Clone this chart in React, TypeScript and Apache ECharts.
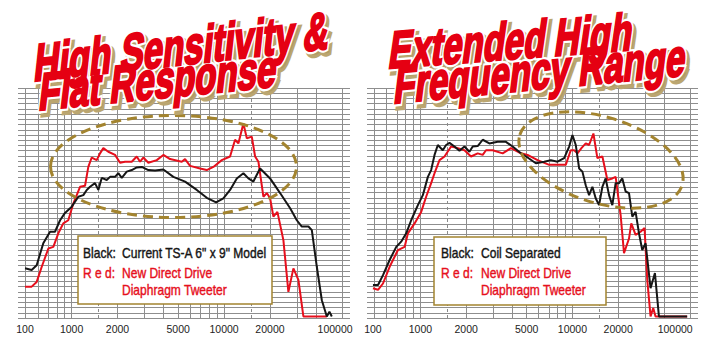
import React, { useEffect, useRef } from 'react';
import * as echarts from 'echarts';

// ---- Data (frequency in Hz, relative level in grid units) ----
const leftBlack: [number, number][] = [
  [495, 9.5], [547, 9.2], [590, 10.1], [652, 14.3], [722, 16.5], [778, 16.5], [840, 18.7], [905, 20.1],
  [1002, 21.3], [1107, 23.2], [1194, 23.5], [1257, 24.5], [1321, 25.1], [1424, 25.8], [1497, 24.5],
  [1576, 26.8], [1700, 26.4], [1787, 27.0], [1927, 27.0], [2025, 27.7], [2133, 26.8], [2300, 28.0],
  [2480, 28.3], [2675, 28.8], [2885, 28.9], [3187, 28.3], [3527, 28.2], [3997, 28.4], [4650, 27.0],
  [5549, 26.1], [6622, 24.5], [7702, 23.0], [8863, 22.1], [9897, 22.9], [10950, 24.5], [12120, 26.7],
  [13390, 27.7], [14440, 26.7], [15570, 26.1], [16400, 27.4], [17230, 28.6], [20040, 26.7], [23310, 23.9],
  [27130, 21.0], [30010, 18.7], [32350, 17.5], [35760, 17.5], [37640, 16.8], [40590, 9.8], [43780, 3.4],
  [47210, 0.3], [49110, 1.2], [50910, 0.3],
];
const leftRed: [number, number][] = [
  [495, 6.0], [547, 6.0], [590, 6.9], [637, 9.8], [704, 13.3], [759, 13.6], [818, 16.2], [882, 18.1],
  [951, 18.7], [1026, 21.9], [1136, 25.1], [1225, 25.3], [1287, 28.9], [1355, 30.7], [1462, 30.2],
  [1536, 31.5], [1615, 32.5], [1741, 31.8], [1927, 31.2], [2078, 29.7], [2241, 29.9], [2480, 29.9],
  [2675, 30.9], [2811, 29.9], [2955, 30.7], [3187, 29.7], [3619, 30.2], [3997, 31.2], [4424, 30.4],
  [5279, 29.9], [5549, 30.4], [5984, 29.1], [6960, 28.6], [7702, 28.3], [8509, 28.9], [9661, 30.2],
  [10950, 30.9], [11810, 34.1], [12410, 33.4], [13390, 37.2], [14100, 34.4], [15200, 34.7], [15980, 30.9],
  [16800, 29.9], [18110, 23.2], [19070, 23.9], [20040, 22.9], [21070, 19.4], [22380, 20.3], [24500, 14.9],
  [26420, 5.0], [28500, 9.5], [30730, 7.3], [33140, 0.3], [47210, 0.3],
];
const rightBlack: [number, number][] = [
  [487, 6.3], [526, 6.3], [567, 8.2], [627, 11.1], [693, 13.6], [747, 14.6], [806, 16.2], [869, 18.7],
  [962, 21.6], [1037, 23.5], [1119, 27.0], [1176, 28.3], [1238, 31.2], [1301, 33.1], [1403, 32.1],
  [1475, 33.1], [1553, 33.5], [1675, 32.8], [1806, 32.0], [1948, 32.8], [2100, 31.8], [2208, 32.8],
  [2380, 32.9], [2568, 34.1], [2842, 33.4], [3221, 33.7], [3651, 33.7], [4040, 32.8], [4580, 31.5],
  [5068, 30.7], [5745, 29.6], [6522, 29.9], [7205, 30.2], [7974, 29.9], [8822, 30.6], [9515, 32.8],
  [10000, 35.0], [10515, 33.1], [11070, 28.6], [11630, 28.0], [12230, 25.4], [12870, 23.5], [13530, 25.1],
  [14220, 22.9], [14970, 21.6], [15740, 25.1], [16540, 26.7], [17410, 23.5], [18300, 21.6], [19240, 25.8],
  [20250, 25.8], [21290, 26.7], [22380, 24.2], [23560, 23.9], [24770, 19.4], [26030, 20.3], [27410, 16.2],
  [28800, 13.0], [30280, 14.3], [32650, 5.7], [34890, 8.6], [37070, 0.3], [56850, 0.3],
];
const rightRed: [number, number][] = [
  [487, 5.7], [526, 5.4], [567, 6.6], [627, 9.8], [711, 13.0], [787, 13.6], [827, 16.2], [915, 18.1],
  [1011, 20.3], [1090, 23.2], [1176, 25.8], [1238, 27.7], [1335, 30.2], [1440, 30.9], [1591, 32.8],
  [1760, 32.5], [1948, 32.1], [2152, 30.9], [2380, 31.5], [2568, 31.2], [2700, 32.1], [2987, 32.1],
  [3474, 31.5], [3938, 32.5], [4580, 31.5], [5068, 31.2], [5894, 30.2], [7036, 29.3], [7974, 29.3],
  [9038, 29.3], [9750, 32.1], [10260, 32.1], [10790, 31.5], [11460, 32.5], [12230, 33.4], [12870, 33.1],
  [13740, 35.3], [14590, 30.6], [15740, 30.9], [16980, 26.4], [18300, 26.7], [19240, 27.0], [20750, 19.7],
  [21840, 12.4], [23560, 15.2], [24390, 18.1], [26030, 15.9], [28070, 16.5], [29820, 17.2], [31060, 7.3],
  [32650, 0.3], [34000, 1.9], [35210, 0.3], [56850, 0.3],
];

const gridFreqs = [500, 600, 700, 800, 900, 1000, 2000, 3000, 4000, 5000, 6000, 7000, 8000, 9000, 10000, 20000, 30000, 40000, 60000];
const dashedFreqs = [1500, 15000];
const tickLabels = ['100', '1000', '2000', '5000', '10000', '20000', '100000'];
const leftTickFreqs = [495, 1000, 2000, 5000, 10000, 20000, 53500];
const rightTickFreqs = [487, 1000, 2000, 5000, 10000, 20000, 47400];

const titlesLeft = ['High Sensitivity &', 'Flat Response'];
const titlesRight = ['Extended High', 'Frequency Range'];
const legendLeft = ['Black:', 'Current TS-A 6" x 9" Model', 'R e d:', 'New Direct Drive', 'Diaphragm Tweeter'];
const legendRight = ['Black:', 'Coil Separated', 'R e d:', 'New Direct Drive', 'Diaphragm Tweeter'];

const X_MIN = 445;
const X_MAX = 67000;
const Y_MAX = 44;

const RED = '#e60f1c';
const BLACK = '#151515';
const GOLD = '#a3842f';
const GRID = '#8e8e8e';
const SANS = 'Liberation Sans';

function makeFormatter(ticks: number[]) {
  return (v: number) => {
    let best = 0;
    ticks.forEach((t, i) => {
      if (Math.abs(Math.log10(t) - Math.log10(v)) < Math.abs(Math.log10(ticks[best]) - Math.log10(v))) best = i;
    });
    return tickLabels[best];
  };
}

function titleText(text: string, x: number, y: number, rot: number) {
  const base = { type: 'text', rotation: rot, scaleX: 0.67, skewX: -0.22, silent: true };
  const st = {
    text,
    fontFamily: SANS,
    fontSize: 52,
    fontWeight: 'bold',
    fontStyle: 'normal',
    verticalAlign: 'middle',
    align: 'left',
  };
  return [
    // gold drop shadow
    {
      ...base,
      x: x + 3,
      y: y + 4,
      z: 98,
      style: { ...st, fill: '#b09a64', stroke: '#bba670', lineWidth: 7 },
    },
    // white outline
    {
      ...base,
      x,
      y,
      z: 99,
      style: { ...st, fill: '#ffffff', stroke: '#ffffff', lineWidth: 7 },
    },
    // red face
    {
      ...base,
      x,
      y,
      z: 100,
      style: { ...st, fill: '#e50012', stroke: '#e50012', lineWidth: 2.5 },
    },
  ];
}

function legendBox(x: number, y: number, w: number, h: number, texts: string[], c1: number, c2: number) {
  const t = (text: string, tx: number, ty: number, color: string) => ({
    type: 'text',
    x: tx,
    y: ty,
    z: 101,
    scaleX: 0.86,
    style: {
      text,
      fontFamily: SANS,
      fontSize: 14,
      fill: color,
      stroke: color,
      lineWidth: 0.4,
      verticalAlign: 'middle',
      align: 'left',
    },
  });
  return [
    {
      type: 'rect',
      z: 100,
      shape: { x, y, width: w, height: h },
      style: { fill: '#ffffff', stroke: GOLD, lineWidth: 1.5 },
    },
    t(texts[0], c1, 253, BLACK),
    t(texts[1], c2, 253, BLACK),
    t(texts[2], c1, 273, RED),
    t(texts[3], c2, 273, RED),
    t(texts[4], c2, 290, RED),
  ];
}

export default function App() {
  const ref = useRef<HTMLDivElement>(null);
  useEffect(() => {
    if (!ref.current) return;
    const chart = echarts.init(ref.current, undefined, { renderer: 'svg' });

    const mkX = (gi: number, ticks: number[]) => ({
      type: 'log',
      logBase: 10,
      gridIndex: gi,
      min: X_MIN,
      max: X_MAX,
      axisLine: { show: false },
      axisTick: { show: false },
      splitLine: { show: false },
      minorSplitLine: { show: false },
      axisLabel: {
        customValues: ticks,
        formatter: makeFormatter(ticks),
        fontSize: 10.5,
        color: '#222',
        margin: 5,
        fontFamily: SANS,
      },
    });
    const mkY = (gi: number) => ({
      type: 'value',
      gridIndex: gi,
      min: 0,
      max: Y_MAX,
      interval: 1,
      axisLine: { show: false },
      axisTick: { show: false },
      axisLabel: { show: false },
      splitLine: { show: true, lineStyle: { color: GRID, width: 1 } },
    });
    const gridSeries = (gi: number) => ({
      type: 'line',
      xAxisIndex: gi,
      yAxisIndex: gi,
      data: [],
      silent: true,
      markLine: {
        silent: true,
        symbol: ['none', 'none'],
        z: 1,
        label: { show: false },
        emphasis: { disabled: true },
        data: [
          ...gridFreqs.map((f) => ({ xAxis: f, lineStyle: { color: GRID, width: 1, type: 'solid' } })),
          ...dashedFreqs.map((f) => ({ xAxis: f, lineStyle: { color: '#8a8a8a', width: 1, type: [3, 3] } })),
        ],
      },
    });
    const lineSeries = (gi: number, data: [number, number][], color: string) => ({
      type: 'line',
      xAxisIndex: gi,
      yAxisIndex: gi,
      data,
      showSymbol: false,
      symbol: 'none',
      z: 3,
      lineStyle: { color, width: 2 },
      emphasis: { disabled: true },
    });

    chart.setOption({
      animation: false,
      backgroundColor: '#ffffff',
      grid: [
        { left: 18, top: 88, width: 332, height: 230 },
        { left: 367, top: 88, width: 331, height: 230 },
      ],
      xAxis: [mkX(0, leftTickFreqs), mkX(1, rightTickFreqs)],
      yAxis: [mkY(0), mkY(1)],
      series: [
        gridSeries(0),
        gridSeries(1),
        lineSeries(0, leftRed, RED),
        lineSeries(0, leftBlack, BLACK),
        lineSeries(1, rightRed, RED),
        lineSeries(1, rightBlack, BLACK),
      ],
      graphic: [
        {
          type: 'ellipse',
          z: 50,
          shape: { cx: 173.5, cy: 166.5, rx: 123, ry: 51 },
          style: { fill: 'none', stroke: GOLD, lineWidth: 3, lineDash: [10, 6] },
        },
        {
          type: 'ellipse',
          z: 50,
          x: 601,
          y: 160,
          rotation: -0.3,
          shape: { cx: 0, cy: 0, rx: 85, ry: 43 },
          style: { fill: 'none', stroke: GOLD, lineWidth: 3, lineDash: [10, 6] },
        },
        ...legendBox(78, 236, 194, 68, legendLeft, 83, 122),
        ...legendBox(434, 237, 172, 68, legendRight, 441, 481),
        ...titleText(titlesLeft[0], 35, 63, 0.11),
        ...titleText(titlesLeft[1], 40, 92, 0.1),
        ...titleText(titlesRight[0], 390, 50, 0.075),
        ...titleText(titlesRight[1], 395, 85, 0.095),
      ],
    });
    return () => chart.dispose();
  }, []);

  return (
    <div
      ref={ref}
      style={{ position: 'absolute', left: 0, top: 0, width: 716, height: 337, background: '#fff' }}
    />
  );
}
